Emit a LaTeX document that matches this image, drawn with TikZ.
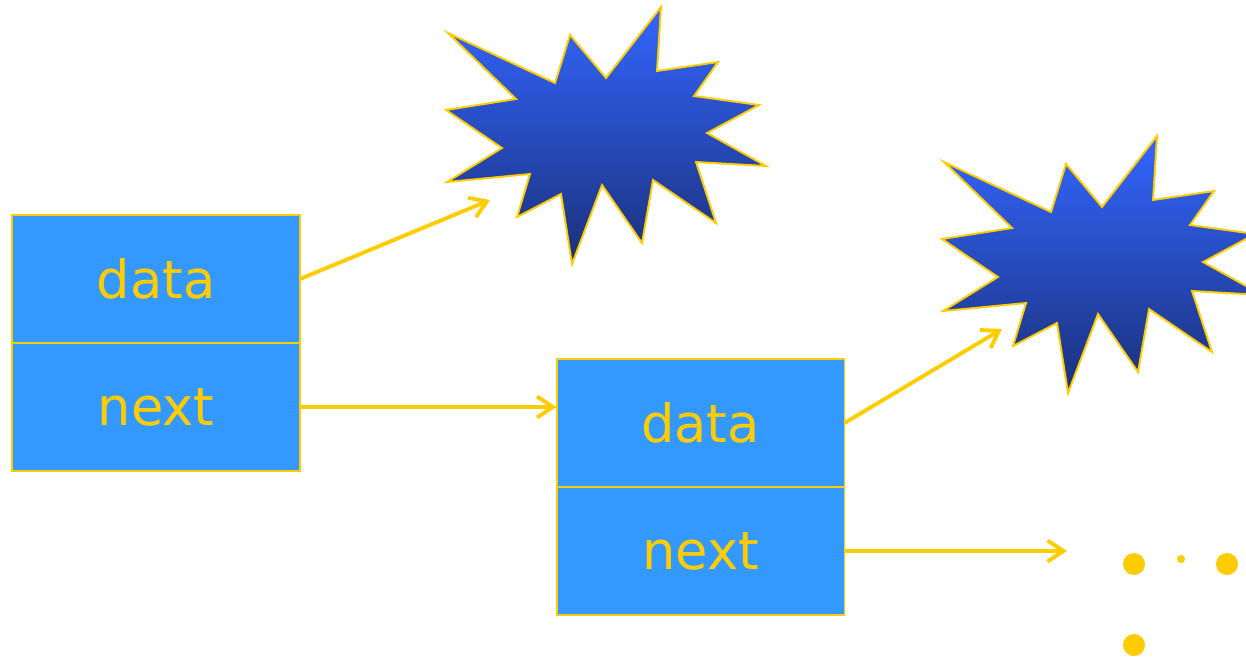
\documentclass[tikz,border=0pt]{standalone}
\usepackage{fontspec}
\setmainfont{DejaVu Sans}
\usepackage{tikz}
\usetikzlibrary{positioning,arrows.meta}

\definecolor{gold}{HTML}{FFCC00}
\definecolor{cellblue}{HTML}{3399FF}
\definecolor{startop}{HTML}{3366FF}
\definecolor{starbot}{HTML}{1A307A}

\tikzset{
  cell/.style={draw=gold,line width=1.1pt,fill=cellblue,text=gold,
    minimum width=5.76cm,minimum height=2.56cm,outer sep=0pt,
    font=\fontsize{30}{36}\selectfont},
  link/.style={draw=gold,line width=2.2pt,-{Straight Barb[length=3.2mm,width=4.2mm]}},
  burst/.style={draw=gold,line width=1.1pt,top color=startop,bottom color=starbot},
  dot/.style={fill=gold}
}

\begin{document}
\begin{tikzpicture}[x=0.02cm,y=-0.02cm]
\useasboundingbox(0,0)rectangle(1246,657);
\clip(0,0)rectangle(1246,657);
% the two bursts
\foreach \dx/\dy in {0/0,496/129}
  \shadedraw[burst,shift={(\dx,\dy)}](448,33)--(555,83)--(570,35)--(606,78)--(661,7)--(657,71)--(718,62)--(694,96)--(759,105)--(707,133)--(766,166)--(696,162)--(716,223)--(653,180)--(642,243)--(602,185)--(572,264)--(561,194)--(517,217)--(530,174)--(447,182)--(502,148)--(446,110)--(516,99)--cycle;
% first element
\node[cell] (data1) at (156,279) {data};
\node[cell,below=0pt of data1] (next1) {next};
% second element
\node[cell] (data2) at (700.5,423) {data};
\node[cell,below=0pt of data2] (next2) {next};
\coordinate (burst1) at (490,200);
\coordinate (burst2) at (1002,329);
\coordinate (more) at (1067,551);
\draw[link](data1.east)--(burst1);
\draw[link](next1.east)--(next1.east-|data2.west);
\draw[link](data2.east)--(burst2);
\draw[link](next2.east)--(more);
% dots
\fill[dot](1134,564)circle(11);
\fill[dot](1181,559)circle(4);
\fill[dot](1227,564)circle(11);
\fill[dot](1134,645)circle(11);
\end{tikzpicture}
\end{document}
